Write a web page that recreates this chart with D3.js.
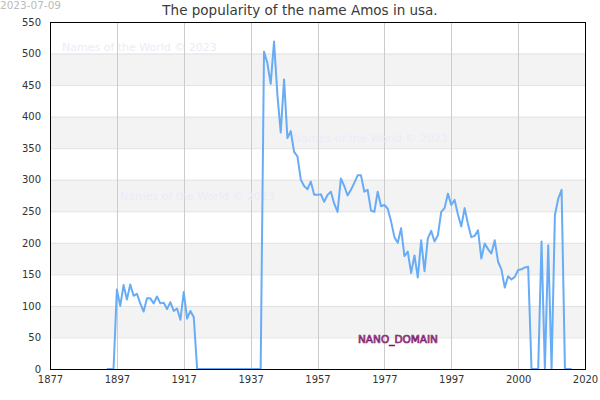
<!DOCTYPE html>
<html lang="en">
<head>
    <title>Amos</title>
    <meta charset="utf-8"/>
    <script src="https://d3js.org/d3.v7.min.js"></script>
    <style>
        body { margin: 0; background: #fff; }
        svg text { font-family: "DejaVu Sans", sans-serif; }
    </style>
</head>
<body>
<div id="viz">
    <svg width="600" height="400"></svg>
</div>

<script type="text/javascript">

    // datos
    const chartTitle = "The popularity of the name Amos in usa.";
    const dateLabel = "2023-07-09";
    const firstYear = 1894;
    const popularity = [
        0, 0, 0,
        126, 100, 133, 110, 134, 116, 119, 104, 91, 112, 112, 104, 115, 104, 105, 95, 106, 92, 96, 78, 122, 80, 92, 82,
        0, 0, 0, 0, 0, 0, 0, 0, 0, 0, 0, 0, 0, 0, 0, 0, 0, 0, 0, 0,
        503, 485, 452, 519, 435, 375, 459, 366, 377, 344,
        337, 300, 290, 285, 297, 276, 276, 277, 265, 276,
        281, 262, 249, 302, 290, 275, 284, 295, 307, 307,
        281, 284, 251, 249, 281, 258, 260, 254, 234, 209,
        200, 223, 179, 186, 152, 180, 145, 204, 155, 207,
        219, 202, 212, 249, 255, 278, 260, 268, 245, 226,
        255, 230, 209, 211, 220, 175, 199, 190, 183, 204,
        170, 158, 129, 147, 142, 146, 157, 158, 161, 162,
        0, 0, 0, 202, 0, 196, 0, 244, 270, 284,
        0, 0, 0
    ];
    const xTickValues = [1877, 1897, 1917, 1937, 1957, 1977, 1997, 2017, 2037];
    const xTickLabels = ["1877", "1897", "1917", "1937", "1957", "1977", "1997", "2000", "2020"];
    const yTicks = [0, 50, 100, 150, 200, 250, 300, 350, 400, 450, 500, 550];
    const bands = [[50, 100], [150, 200], [250, 300], [350, 400], [450, 500]];
    const watermark = "Names of the World © 2023";

    const lineColor = "#68acf6";
    const svg = d3.select("svg");

    const x = d3.scaleLinear().domain([1877, 2037]).range([50, 585]);
    const y = d3.scaleLinear().domain([0, 550]).range([369, 22]);

    const data = popularity.map((v, i) => ({year: firstYear + i, value: v}));

    // bandas grises
    svg.append("g")
        .selectAll("rect")
        .data(bands).enter()
        .append("rect")
        .attr("x", x.range()[0])
        .attr("width", x.range()[1] - x.range()[0])
        .attr("y", d => y(d[1]))
        .attr("height", d => y(d[0]) - y(d[1]))
        .attr("fill", "#f3f3f3");

    // grilla horizontal
    svg.append("g")
        .selectAll("line")
        .data(yTicks).enter()
        .append("line")
        .attr("x1", x.range()[0]).attr("x2", x.range()[1])
        .attr("y1", d => y(d) + 0.5).attr("y2", d => y(d) + 0.5)
        .attr("stroke", "#e2e2e2");

    // grilla vertical
    svg.append("g")
        .selectAll("line")
        .data(xTickValues).enter()
        .append("line")
        .attr("x1", d => Math.round(x(d)) + 0.5).attr("x2", d => Math.round(x(d)) + 0.5)
        .attr("y1", y.range()[1]).attr("y2", y.range()[0])
        .attr("stroke", "#cccccc");

    // marcas de agua
    const marks = [[62, 51], [293, 142], [120, 200]];
    svg.append("g")
        .selectAll("text")
        .data(marks).enter()
        .append("text")
        .attr("x", d => d[0]).attr("y", d => d[1])
        .style("font-size", "11px")
        .attr("fill", "#ebebf8")
        .text(watermark);

    svg.append("text")
        .attr("x", 398).attr("y", 343)
        .attr("text-anchor", "middle")
        .style("font-size", "10.5px")
        .attr("fill", "#d67cc6")
        .attr("stroke", "#7a1a66")
        .attr("stroke-width", 0.7)
        .text("NANO_DOMAIN");

    // linea
    const popLine = d3.line()
        .x(d => x(d.year))
        .y(d => y(d.value));

    svg.append("path")
        .attr("d", popLine(data))
        .attr("fill", "none")
        .attr("stroke", lineColor)
        .attr("stroke-width", 2)
        .attr("stroke-linejoin", "round");

    // marco
    svg.append("rect")
        .attr("x", 50.5).attr("y", 22.5)
        .attr("width", 535).attr("height", 347)
        .attr("fill", "none")
        .attr("stroke", "#000");

    // ejes
    const yAxis = d3.axisLeft(y).tickValues(yTicks).tickSize(0).tickPadding(9);
    svg.append("g")
        .attr("transform", "translate(50,0)")
        .style("font-size", "10px")
        .call(yAxis)
        .call(g => g.select(".domain").remove())
        .selectAll("text").attr("fill", "#333");

    const xAxis = d3.axisBottom(x)
        .tickValues(xTickValues)
        .tickFormat((d, i) => xTickLabels[i])
        .tickSize(0).tickPadding(7);
    svg.append("g")
        .attr("transform", "translate(0,369)")
        .style("font-size", "10px")
        .call(xAxis)
        .call(g => g.select(".domain").remove())
        .selectAll("text").attr("fill", "#333");

    // titulo y fecha
    svg.append("text")
        .attr("x", 300).attr("y", 15)
        .attr("text-anchor", "middle")
        .style("font-size", "13.5px")
        .attr("fill", "#3a3a3a")
        .text(chartTitle);

    svg.append("text")
        .attr("x", 0).attr("y", 9)
        .style("font-size", "10.5px")
        .attr("fill", "#bbbbbb")
        .text(dateLabel);

</script>
</body>
</html>
